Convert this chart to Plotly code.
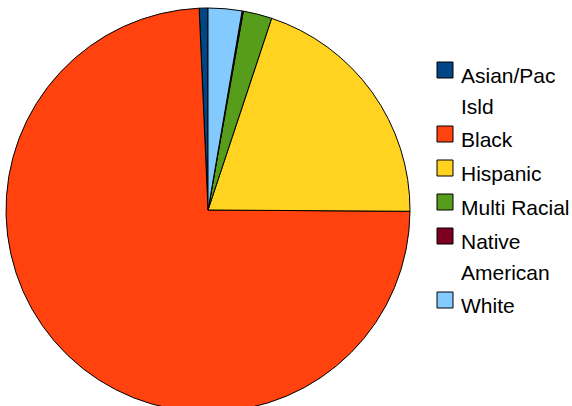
import plotly.graph_objects as go

labels = ["Asian/Pac<br>Isld", "Black", "Hispanic", "Multi Racial", "Native<br>American", "White"]
values = [0.7, 74.2, 20.0, 2.3, 0.1, 2.7]
colors = ["#004586", "#ff420e", "#ffd320", "#579d1c", "#7e0021", "#83caff"]

W, H = 572, 418

def px(x):
    return x / W

def py(y):
    return (H - y) / H

# plotly puts the first slice to the right of 12 o'clock when counterclockwise;
# rotate so the first slice ends at 12 o'clock (drawn to its left) as in the reference
first_angle = values[0] / sum(values) * 360

fig = go.Figure(go.Pie(
    labels=labels,
    values=values,
    marker=dict(colors=colors, line=dict(color="#000000", width=1)),
    sort=False,
    direction="counterclockwise",
    rotation=-first_angle,
    textinfo="none",
    hoverinfo="none",
    showlegend=False,
    domain=dict(x=[6 / W, 410 / W], y=[6 / H, 410 / H]),
))

shapes = []
annotations = []
top = 62
for lab, col in zip(labels, colors):
    shapes.append(dict(type="rect", xref="paper", yref="paper",
                       x0=px(437), x1=px(453), y0=py(top), y1=py(top + 16),
                       fillcolor=col, line=dict(color="#000000", width=1)))
    lines = lab.split("<br>")
    for k, ln in enumerate(lines):
        annotations.append(dict(xref="paper", yref="paper", x=px(459), y=py(top + 13.5 + 30.5 * k),
                                xanchor="left", yanchor="middle", text=ln, showarrow=False,
                                font=dict(family="Liberation Sans", size=21, color="#000000")))
    top += 34 + 30 * (len(lines) - 1)

fig.update_layout(
    width=W, height=H,
    margin=dict(l=0, r=0, t=0, b=0),
    paper_bgcolor="white",
    plot_bgcolor="white",
    shapes=shapes,
    annotations=annotations,
)

fig.write_html("out.html", config={"displayModeBar": False},
               post_script="document.body.style.margin='0';document.body.style.overflow='hidden';document.documentElement.style.overflow='hidden';")
